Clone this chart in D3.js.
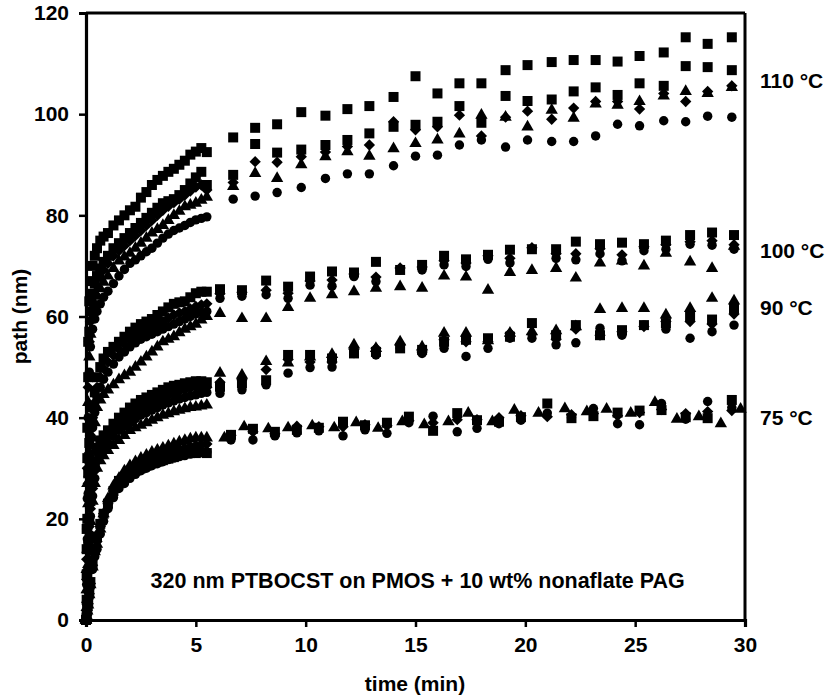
<!DOCTYPE html>
<html>
<head>
<meta charset="utf-8">
<script src="https://cdn.jsdelivr.net/npm/d3@7"></script>
<style>
  html, body { margin: 0; padding: 0; background: #fff; }
  svg { display: block; font-family: "Liberation Sans", Arial, sans-serif; font-weight: bold; }
</style>
</head>
<body>
<svg id="chart" width="830" height="696"></svg>
<script>
// ---------- DATA ----------
const xTicks = [0, 5, 10, 15, 20, 25, 30];
const yTicks = [0, 20, 40, 60, 80, 100, 120];

// dense early-time sampling (min), shared by all runs
const denseTimes = [0, 0.03, 0.06, 0.1, 0.15, 0.2, 0.3, 0.4, 0.5, 0.65, 0.8, 1.0, 1.25, 1.5, 1.75, 2.0, 2.25, 2.5, 2.75, 3.0, 3.25, 3.5, 3.75, 4.0, 4.25, 4.5, 4.75, 5.0, 5.25, 5.5];
// sparse later sampling (min)
const sparseTimes110 = [6.7, 7.7, 8.7, 9.8, 10.9, 11.9, 12.9, 14.0, 15.0, 16.0, 17.0, 18.0, 19.1, 20.1, 21.2, 22.2, 23.2, 24.2, 25.2, 26.3, 27.3, 28.3, 29.4];
const sparseTimes100 = [6.1, 7.1, 8.2, 9.2, 10.2, 11.2, 12.2, 13.2, 14.3, 15.3, 16.3, 17.3, 18.3, 19.3, 20.3, 21.4, 22.3, 23.4, 24.4, 25.4, 26.4, 27.5, 28.5, 29.5];
const sparseTimes90 = [6.1, 7.1, 8.2, 9.2, 10.2, 11.2, 12.2, 13.2, 14.3, 15.3, 16.3, 17.3, 18.3, 19.3, 20.3, 21.4, 22.3, 23.4, 24.4, 25.4, 26.4, 27.5, 28.5, 29.5];
const sparseTimes75 = [6.6, 7.6, 8.6, 9.6, 10.6, 11.7, 12.7, 13.7, 14.7, 15.8, 16.9, 17.8, 18.8, 19.8, 21.0, 22.1, 23.1, 24.2, 25.2, 26.2, 27.3, 28.3, 29.4];
const sparseTimes75tri = [6.3, 7.2, 8.3, 9.2, 10.3, 11.3, 12.3, 13.3, 14.4, 15.4, 16.5, 17.4, 18.5, 19.5, 20.6, 21.8, 22.8, 23.7, 24.8, 25.9, 26.9, 27.9, 28.9, 29.8];

// 110 °C
const sqA110dense = [0, 18, 38, 55, 63, 67, 70, 72, 73.5, 75, 75.8, 76.5, 78, 79, 80, 81, 81.7, 83.5, 84.6, 86, 87, 87.8, 88.6, 89.2, 90, 90.8, 92, 92.6, 93.3, 92.5];
const sqA110 = [95.4, 97.3, 98.0, 100.4, 99.7, 101.0, 101.6, 103.4, 107.5, 104.1, 106.1, 106.1, 108.7, 109.7, 110.3, 110.7, 110.7, 110.4, 111.5, 112.2, 115.2, 113.9, 115.2];
const sqB110dense = [0, 14, 32, 48, 57, 61, 64.5, 66.5, 68, 69.5, 70.8, 72, 73.5, 74.5, 75.5, 76.5, 77.5, 78.5, 79.5, 80.5, 81.5, 82.4, 82.8, 83.2, 84, 85, 86.3, 87.5, 88.6, 86];
const sqB110 = [88.0, 94.1, 92.4, 93.0, 93.9, 94.9, 96.2, 97.5, 97.9, 98.5, 101.6, 98.3, 103.6, 102.6, 102.9, 104.5, 105.3, 103.8, 106.1, 105.6, 109.5, 109.3, 108.7];
const dia110dense = [0, 12, 30, 46, 55, 59, 62.5, 64.5, 66, 67.8, 69.2, 70.5, 72, 73, 74, 75, 76, 77, 78, 79, 80, 81, 81.8, 82.5, 83.2, 84, 84.8, 85.6, 86, 85];
const dia110 = [86.5, 90.6, 90.5, 91.6, 92.5, 93.6, 93.9, 98.5, 96.9, 97.5, 99.8, 95.7, 99.4, 100.6, 99.0, 101.2, 102.5, 102.5, 101.0, 104.1, 102.5, 104.5, 105.6];
const tri110dense = [0, 10, 27, 43, 52, 56.5, 60, 62.5, 64, 65.5, 66.8, 68, 69.5, 71, 71.8, 72.5, 73.5, 74.5, 75.5, 76.5, 77.2, 78, 79, 80, 80.8, 81.7, 82, 82.4, 83, 83.6];
const tri110 = [85.7, 88.3, 87.3, 90.0, 91.6, 92.6, 91.7, 93.2, 94.2, 94.9, 96.1, 99.8, 99.4, 97.5, 100.8, 99.2, 102.0, 101.8, 102.5, 103.6, 104.5, 104.1, 105.3];
const cir110dense = [0, 8, 24, 40, 49, 54, 57.5, 59.5, 61, 62.5, 63.8, 65, 66.5, 68, 69.3, 70.5, 71.2, 72, 72.8, 73.5, 74.5, 75.5, 76.3, 77, 77.5, 78, 78.6, 79.1, 79.4, 79.7];
const cir110 = [83.2, 83.8, 84.5, 85.5, 87.3, 88.2, 88.2, 89.8, 91.7, 91.9, 93.9, 94.9, 93.5, 94.9, 94.6, 94.6, 95.7, 98.0, 97.7, 98.7, 98.5, 99.6, 99.4];

// 100 °C
const sq100dense = [0, 9, 20, 29, 35, 38.5, 42, 45, 48, 50, 51.7, 53, 54, 55, 56, 57, 57.8, 58.5, 59, 59.5, 60.3, 61, 61.8, 62.5, 62.8, 63, 63.8, 64.6, 64.9, 64.9];
const sq100 = [65.4, 65.2, 67.1, 65.9, 67.9, 68.9, 68.7, 70.8, 69.2, 70.2, 72.0, 71.3, 72.2, 73.2, 73.3, 73.3, 74.8, 74.3, 74.6, 74.3, 75.0, 76.1, 76.6, 76.1];
const dia100dense = [0, 8, 18, 27, 33, 36.5, 40, 43, 46, 48, 49.7, 51, 52.3, 53.5, 54.5, 55.5, 56.3, 57, 57.5, 58, 58.5, 59, 59.7, 60.3, 60.7, 61, 61.5, 62, 62.3, 62.5];
const dia100 = [64.5, 64.8, 65.2, 64.6, 67.0, 67.2, 68.4, 67.8, 69.6, 69.8, 71.0, 70.6, 72.0, 71.5, 73.6, 72.4, 72.4, 73.4, 72.2, 73.8, 74.2, 74.8, 75.0, 74.2];
const cir100dense = [0, 7, 16, 25, 31, 34.5, 38, 41, 44, 46, 47.6, 49, 50.6, 52, 53, 54, 54.8, 55.5, 56, 56.5, 57, 57.5, 58, 58.5, 59, 59.5, 60, 60.5, 60.8, 61];
const cir100 = [63.6, 64.0, 64.3, 63.6, 66.2, 66.0, 67.9, 66.9, 69.2, 69.2, 70.2, 69.9, 71.3, 70.6, 73.3, 71.5, 71.2, 72.4, 71.0, 73.0, 73.3, 74.3, 74.1, 73.3];
const tri100dense = [0, 6, 14, 23, 29, 32.5, 36, 39, 42, 43.5, 44.6, 45.5, 46.5, 47.5, 48.3, 49, 50, 51, 52, 53, 54, 55, 55.5, 56, 56.8, 57.5, 58, 58.5, 59.3, 60];
const tri100 = [60.6, 59.6, 59.6, 61.8, 63.6, 64.3, 64.9, 65.6, 65.9, 65.6, 68.0, 67.8, 65.2, 68.7, 69.1, 69.5, 67.6, 70.6, 71.0, 70.0, 72.5, 70.8, 69.5, 73.9];

// 90 °C
const sq90dense = [0, 4, 9, 15, 20, 23.5, 27.5, 31, 34, 35.5, 36.5, 37.5, 38.8, 40, 41, 42, 42.8, 43.5, 44, 44.5, 45, 45.5, 46, 46.3, 46.5, 46.8, 47, 47.2, 47.2, 47];
const sq90 = [46.1, 46.8, 47.4, 52.4, 52.4, 51.7, 52.7, 53.0, 53.7, 53.4, 55.0, 55.4, 55.7, 56.0, 58.7, 56.3, 58.3, 56.3, 57.3, 58.3, 58.7, 60.0, 59.4, 61.6];
const dia90dense = [0, 3.5, 8, 13.5, 18.5, 22, 26, 29.5, 33, 34.5, 35.5, 36.5, 37.8, 39, 39.8, 40.5, 41.3, 42, 42.5, 43, 43.5, 44, 44.4, 44.8, 45.2, 45.5, 45.8, 46, 46, 46];
const dia90 = [47.0, 47.5, 49.5, 51.5, 51.0, 51.0, 53.5, 53.7, 54.3, 53.0, 55.4, 55.0, 55.0, 56.7, 56.5, 55.5, 57.5, 56.3, 57.0, 58.0, 59.0, 59.0, 58.5, 60.5];
const cir90dense = [0, 3, 7, 12, 17, 20.5, 24.5, 28, 31.5, 33, 34, 35, 36.3, 37.5, 38.3, 39, 39.8, 40.5, 41, 41.5, 42, 42.5, 42.9, 43.3, 43.7, 44, 44.3, 44.5, 44.8, 45];
const cir90 = [44.8, 45.5, 46.5, 48.8, 49.9, 50.0, 52.7, 52.4, 53.7, 52.7, 53.7, 52.1, 53.7, 55.7, 55.7, 54.4, 54.8, 57.7, 56.3, 58.3, 57.5, 55.7, 57.0, 58.3];
const tri90dense = [0, 2.5, 6, 11, 16, 19.5, 23.5, 27, 30, 31.5, 32.5, 33.5, 34.5, 35.5, 36.5, 37.5, 38, 38.5, 39, 39.5, 40, 40.5, 40.8, 41.2, 41.5, 41.8, 42, 42.1, 42.3, 42.5];
const tri90 = [48.8, 48.4, 51.1, 50.8, 52.0, 52.5, 54.4, 53.7, 55.0, 54.0, 56.7, 56.7, 55.2, 56.7, 57.0, 57.2, 58.0, 61.4, 61.6, 61.6, 60.3, 61.6, 63.6, 63.1];

// 75 °C
const sq75dense = [0, 1, 2, 3.5, 5.5, 7.5, 11, 14, 16.5, 19, 21, 23, 25.5, 27.5, 28.3, 29, 29.5, 30, 30.5, 31, 31.3, 31.6, 31.9, 32.2, 32.6, 33, 33, 33, 33.2, 33];
const sq75 = [36.6, 37.8, 37.2, 37.6, 38.0, 39.2, 38.5, 39.0, 40.2, 37.4, 40.9, 39.5, 39.2, 40.1, 42.8, 39.9, 40.3, 41.0, 41.4, 41.5, 40.1, 39.9, 43.5];
const dia75dense = [0, 0.9, 2, 3.2, 5.2, 7.2, 10.8, 13.8, 15.5, 18.5, 21, 23, 25.5, 27, 28.3, 29.3, 30, 30.8, 31.4, 32, 32.4, 32.8, 33.2, 33.5, 33.8, 34, 34.3, 34.5, 34.7, 34.8];
const dia75 = [36.5, 37.2, 36.8, 38.3, 38.2, 38.2, 38.6, 38.4, 39.4, 39.0, 39.6, 39.6, 40.0, 40.4, 40.2, 40.6, 40.8, 40.4, 41.0, 41.6, 40.8, 41.2, 41.4];
const cir75dense = [0, 0.6, 1.5, 2.5, 4.5, 6.5, 10, 12.5, 14, 17, 19.5, 22, 24.2, 26, 27, 28, 28.8, 29.5, 30, 30.5, 30.9, 31.3, 31.7, 32, 32.3, 32.5, 32.8, 33, 33.1, 33.2];
const cir75 = [35.6, 35.6, 36.4, 37.0, 37.4, 36.4, 37.6, 36.9, 39.0, 40.3, 37.2, 37.9, 38.8, 39.5, 40.9, 40.0, 41.8, 38.8, 38.6, 42.8, 39.7, 43.2, 42.0];
const tri75dense = [0, 0.8, 1.8, 3, 5, 7, 10.5, 13.5, 15, 18, 21, 24, 26.5, 28, 29.5, 30.5, 31.3, 32, 32.6, 33.2, 33.6, 34, 34.4, 34.8, 35.2, 35.5, 35.8, 36, 36, 36];
const tri75 = [36.0, 38.2, 37.8, 38.0, 38.4, 38.0, 39.0, 37.9, 39.2, 38.6, 39.2, 40.9, 39.2, 41.5, 40.9, 41.8, 41.2, 41.7, 40.9, 43.0, 39.7, 40.2, 38.8, 41.7];

const tempLabels = ["110 °C", "100 °C", "90 °C", "75 °C"];
const tempLabelValues = [106.6, 73, 61.7, 40];
const annotation = "320 nm PTBOCST on PMOS + 10 wt% nonaflate PAG";

// ---------- SERIES TABLE ----------
const series = [
  {marker: "circle",   dense: cir75dense,  sparse: cir75,  st: sparseTimes75},
  {marker: "diamond",  dense: dia75dense,  sparse: dia75,  st: sparseTimes75},
  {marker: "square",   dense: sq75dense,   sparse: sq75,   st: sparseTimes75},
  {marker: "triangle", dense: tri75dense,  sparse: tri75,  st: sparseTimes75tri},
  {marker: "circle",   dense: cir90dense,  sparse: cir90,  st: sparseTimes90},
  {marker: "diamond",  dense: dia90dense,  sparse: dia90,  st: sparseTimes90},
  {marker: "triangle", dense: tri90dense,  sparse: tri90,  st: sparseTimes90},
  {marker: "square",   dense: sq90dense,   sparse: sq90,   st: sparseTimes90},
  {marker: "triangle", dense: tri100dense, sparse: tri100, st: sparseTimes100},
  {marker: "circle",   dense: cir100dense, sparse: cir100, st: sparseTimes100},
  {marker: "diamond",  dense: dia100dense, sparse: dia100, st: sparseTimes100},
  {marker: "square",   dense: sq100dense,  sparse: sq100,  st: sparseTimes100},
  {marker: "circle",   dense: cir110dense, sparse: cir110, st: sparseTimes110},
  {marker: "triangle", dense: tri110dense, sparse: tri110, st: sparseTimes110},
  {marker: "diamond",  dense: dia110dense, sparse: dia110, st: sparseTimes110},
  {marker: "square",   dense: sqB110dense, sparse: sqB110, st: sparseTimes110},
  {marker: "square",   dense: sqA110dense, sparse: sqA110, st: sparseTimes110}
];

// ---------- DRAW ----------
const svg = d3.select("#chart");
const L = 86, R = 745, T = 13, B = 620;
const x = d3.scaleLinear().domain([0, 30]).range([L, R]);
const y = d3.scaleLinear().domain([0, 120]).range([B, T]);

const symbols = {
  square:   d3.symbol().type(d3.symbolSquare).size(100)(),
  diamond:  d3.symbol().type(d3.symbolSquare).size(64)(),
  triangle: d3.symbol().type(d3.symbolTriangle).size(66)(),
  circle:   d3.symbol().type(d3.symbolCircle).size(70)()
};

// frame (top and right)
svg.append("line").attr("x1", x(0)).attr("x2", x(30)).attr("y1", y(120)).attr("y2", y(120))
  .attr("stroke", "#000").attr("stroke-width", 3);
svg.append("line").attr("x1", x(30)).attr("x2", x(30)).attr("y1", y(120)).attr("y2", y(0))
  .attr("stroke", "#000").attr("stroke-width", 3);

// axes
const xAxis = svg.append("g").attr("transform", `translate(0,${B})`)
  .call(d3.axisBottom(x).tickValues(xTicks).tickSize(7).tickPadding(10).tickFormat(d3.format("d")));
const yAxis = svg.append("g").attr("transform", `translate(${L},0)`)
  .call(d3.axisLeft(y).tickValues(yTicks).tickSize(7).tickPadding(10).tickFormat(d3.format("d")));
[xAxis, yAxis].forEach(g => {
  g.select(".domain").attr("stroke", "#000").attr("stroke-width", 3.2);
  g.selectAll(".tick line").attr("stroke", "#000").attr("stroke-width", 2.5);
  g.selectAll(".tick text").attr("fill", "#000")
    .style("font-family", "'Liberation Sans', Arial, sans-serif")
    .style("font-weight", "bold").style("font-size", "21px");
});

// points
const pts = svg.append("g");
series.forEach(s => {
  const data = denseTimes.map((t, i) => [t, s.dense[i]])
    .concat(s.st.map((t, i) => [t, s.sparse[i]]));
  pts.selectAll(null).data(data).enter().append("path")
    .attr("d", symbols[s.marker])
    .attr("transform", d => `translate(${x(d[0])},${y(d[1])})` + (s.marker === "diamond" ? " rotate(45)" : ""))
    .attr("fill", "#000");
});

// axis titles
svg.append("text").attr("x", 415).attr("y", 691).attr("text-anchor", "middle")
  .style("font-size", "21px").text("time (min)");
svg.append("text").attr("transform", `translate(27,${(T + B) / 2}) rotate(-90)`)
  .attr("text-anchor", "middle").style("font-size", "21px").text("path (nm)");

// annotation
svg.append("text").attr("x", x(15.1)).attr("y", y(6.3)).attr("text-anchor", "middle")
  .style("font-size", "21.5px").text(annotation);

// temperature labels
tempLabels.forEach((t, i) => {
  svg.append("text").attr("x", 760).attr("y", y(tempLabelValues[i])).attr("dy", "0.35em")
    .style("font-size", "21px").text(t);
});
</script>
</body>
</html>
